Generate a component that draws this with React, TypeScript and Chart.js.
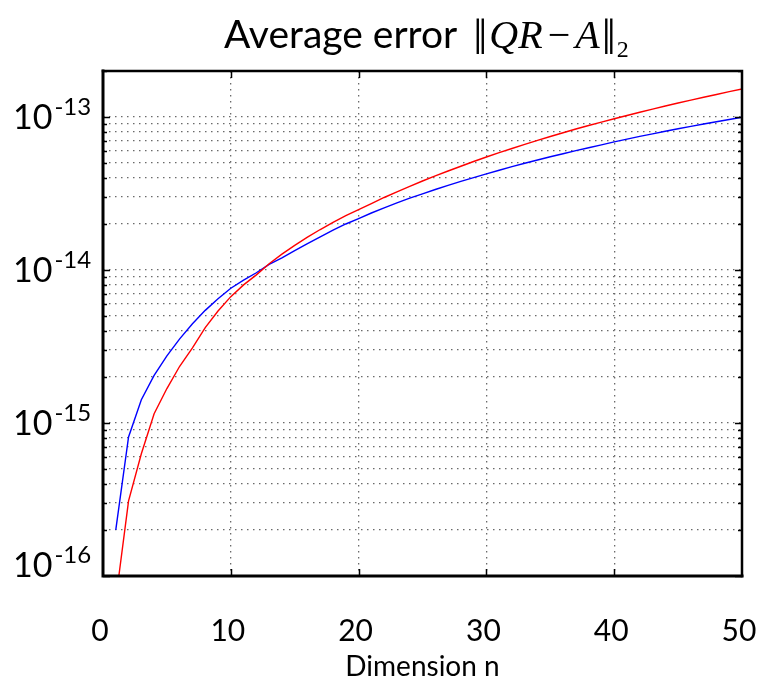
import React, { useEffect, useRef } from "react";
import { Chart, registerables } from "chart.js";

Chart.register(...registerables);

// Matrix dimension n
const dimensions = Array.from({ length: 50 }, (_, i) => i + 1);

// Average error of the two QR variants
const errorRed = [
  7e-17, 3.1e-16, 6.3e-16, 1.15e-15, 1.68e-15, 2.35e-15, 3.1e-15, 4.2e-15, 5.4e-15, 6.7e-15,
  8.0e-15, 9.3e-15, 1.1e-14, 1.27e-14, 1.45e-14, 1.64e-14, 1.84e-14, 2.05e-14, 2.27e-14, 2.48e-14,
  2.72e-14, 2.98e-14, 3.24e-14, 3.52e-14, 3.82e-14, 4.12e-14, 4.44e-14, 4.77e-14, 5.12e-14, 5.48e-14,
  5.85e-14, 6.23e-14, 6.63e-14, 7.04e-14, 7.46e-14, 7.9e-14, 8.35e-14, 8.8e-14, 9.27e-14, 9.75e-14,
  1.024e-13, 1.075e-13, 1.127e-13, 1.18e-13, 1.235e-13, 1.29e-13, 1.347e-13, 1.405e-13, 1.465e-13, 1.525e-13,
];
const errorBlue = [
  2e-16, 8.1e-16, 1.42e-15, 2.05e-15, 2.75e-15, 3.55e-15, 4.45e-15, 5.45e-15, 6.5e-15, 7.6e-15,
  8.6e-15, 9.6e-15, 1.09e-14, 1.2e-14, 1.34e-14, 1.49e-14, 1.65e-14, 1.82e-14, 2.0e-14, 2.17e-14,
  2.36e-14, 2.55e-14, 2.75e-14, 2.95e-14, 3.15e-14, 3.36e-14, 3.58e-14, 3.8e-14, 4.02e-14, 4.25e-14,
  4.49e-14, 4.74e-14, 4.99e-14, 5.24e-14, 5.5e-14, 5.76e-14, 6.03e-14, 6.3e-14, 6.58e-14, 6.88e-14,
  7.18e-14, 7.47e-14, 7.77e-14, 8.07e-14, 8.38e-14, 8.69e-14, 9.0e-14, 9.32e-14, 9.64e-14, 9.97e-14,
];

// Axis ranges and ticks
const xMin = 0;
const xMax = 50;
const xTickValues = [0, 10, 20, 30, 40, 50];
const yMin = 1e-16;
const yMax = 2e-13;
const yDecadeExponents = [-16, -15, -14, -13];
const yMantissas = [1, 2, 3, 4, 5, 6, 7, 8, 9];

const titleText = "Average error";
const xAxisTitle = "Dimension n";

const SANS = "Lato, 'Open Sans', sans-serif";
const SERIF = "'Liberation Serif', 'DejaVu Serif', serif";

// every minor/major position of the log axis inside [yMin, yMax]
const yTickValues: number[] = [];
for (const e of yDecadeExponents) {
  for (const m of yMantissas) {
    const v = m * Math.pow(10, e);
    if (v >= yMin * 0.999 && v <= yMax * 1.001) yTickValues.push(v);
  }
}

const isDecade = (v: number) => {
  const l = Math.log10(v);
  return Math.abs(l - Math.round(l)) < 1e-6;
};

const framePlugin = {
  id: "frameAndLabels",
  afterDraw(chart: any) {
    const { ctx, chartArea: a, scales } = chart;
    const x = scales.x;
    const y = scales.y;
    ctx.save();

    // inward tick marks
    ctx.strokeStyle = "#000";
    ctx.lineWidth = 1.5;
    ctx.beginPath();
    for (const v of xTickValues) {
      if (v <= xMin || v >= xMax) continue;
      const px = Math.round(x.getPixelForValue(v)) + 0.5;
      ctx.moveTo(px, a.bottom);
      ctx.lineTo(px, a.bottom - 7);
      ctx.moveTo(px, a.top);
      ctx.lineTo(px, a.top + 7);
    }
    for (const v of yTickValues) {
      const py = Math.round(y.getPixelForValue(v)) + 0.5;
      const len = isDecade(v) ? 7 : 4;
      ctx.moveTo(a.left, py);
      ctx.lineTo(a.left + len, py);
      ctx.moveTo(a.right, py);
      ctx.lineTo(a.right - len, py);
    }
    ctx.stroke();

    // frame
    ctx.lineCap = "square";
    ctx.lineWidth = 3;
    ctx.beginPath();
    ctx.moveTo(a.left, a.top);
    ctx.lineTo(a.left, a.bottom);
    ctx.lineTo(a.right, a.bottom);
    ctx.stroke();
    ctx.lineWidth = 2.5;
    ctx.beginPath();
    ctx.moveTo(a.left, a.top);
    ctx.lineTo(a.right, a.top);
    ctx.lineTo(a.right, a.bottom);
    ctx.stroke();

    ctx.fillStyle = "#000";

    // y labels: 10 with a raised exponent
    for (const e of yDecadeExponents) {
      let py = y.getPixelForValue(Math.pow(10, e));
      if (py > a.bottom - 11) py = a.bottom - 11;
      ctx.font = `34px ${SANS}`;
      ctx.textAlign = "left";
      ctx.textBaseline = "alphabetic";
      const base = py + 12;
      ctx.fillText("10", 13, base);
      const w = ctx.measureText("10").width;
      ctx.font = `24px ${SANS}`;
      ctx.fillText(String(e), 13 + w + 2, base - 14);
    }

    // x labels
    ctx.font = `30px ${SANS}`;
    ctx.textAlign = "center";
    ctx.textBaseline = "middle";
    for (const v of xTickValues) {
      ctx.fillText(String(v), x.getPixelForValue(v) - 3, 631);
    }

    // x axis title
    ctx.font = `28px ${SANS}`;
    ctx.fillText(xAxisTitle, (a.left + a.right) / 2, 667);

    // chart title with the norm expression
    ctx.textAlign = "left";
    ctx.textBaseline = "alphabetic";
    const tb = 48;
    ctx.font = `39px ${SANS}`;
    let cx = 224;
    ctx.fillText(titleText, cx, tb);
    cx += ctx.measureText(titleText).width + 16;
    const parts: [string, string, number][] = [
      ["\u2016", `50px ${SERIF}`, 2],
      ["QR", `italic 40px ${SERIF}`, 5],
      ["\u2212", `40px ${SERIF}`, 5],
      ["A", `italic 40px ${SERIF}`, 2],
      ["\u2016", `50px ${SERIF}`, 1],
    ];
    for (const [t, f, gap] of parts) {
      ctx.font = f;
      ctx.fillText(t, cx, tb + (t === "\u2016" ? 6 : 0));
      cx += ctx.measureText(t).width + gap;
    }
    ctx.font = `24px ${SERIF}`;
    ctx.fillText("2", cx, tb + 9);

    ctx.restore();
  },
};

export default function App() {
  const ref = useRef<HTMLCanvasElement | null>(null);

  useEffect(() => {
    if (!ref.current) return;
    const chart = new Chart(ref.current, {
      type: "line",
      data: {
        labels: dimensions,
        datasets: [
          {
            data: dimensions.map((n, i) => ({ x: n, y: errorRed[i] })),
            borderColor: "#ff0000",
            borderWidth: 1.4,
            pointRadius: 0,
            tension: 0,
          },
          {
            data: dimensions.map((n, i) => ({ x: n, y: errorBlue[i] })),
            borderColor: "#0000ff",
            borderWidth: 1.4,
            pointRadius: 0,
            tension: 0,
          },
        ],
      },
      options: {
        animation: false,
        responsive: false,
        devicePixelRatio: 1,
        layout: { padding: { left: 103, right: 23, top: 71, bottom: 111 } },
        plugins: {
          legend: { display: false },
          title: { display: false },
          tooltip: { enabled: false },
        },
        scales: {
          x: {
            type: "linear",
            min: xMin,
            max: xMax,
            afterBuildTicks: (s: any) => {
              s.ticks = xTickValues.map((v) => ({ value: v }));
            },
            ticks: { display: false },
            grid: {
              drawTicks: false,
              lineWidth: 1.3,
              color: (c: any) =>
                c.tick && c.tick.value > xMin && c.tick.value < xMax ? "#6a6a6a" : "rgba(0,0,0,0)",
            },
            border: { display: false, dash: [1.5, 4.5] },
          },
          y: {
            type: "logarithmic",
            min: yMin,
            max: yMax,
            afterBuildTicks: (s: any) => {
              s.ticks = yTickValues.map((v) => ({ value: v, major: isDecade(v) }));
            },
            ticks: { display: false },
            grid: {
              drawTicks: false,
              lineWidth: 1.3,
              color: (c: any) =>
                c.tick && c.tick.value > yMin * 1.001 && c.tick.value < yMax * 0.999 ? "#6a6a6a" : "rgba(0,0,0,0)",
            },
            border: { display: false, dash: [1.5, 4.5] },
          },
        },
      },
      plugins: [framePlugin],
    });
    return () => chart.destroy();
  }, []);

  return (
    <div style={{ position: "fixed", left: 0, top: 0, width: 765, height: 687, background: "#fff" }}>
      <canvas ref={ref} width={765} height={687} style={{ display: "block" }} />
    </div>
  );
}
